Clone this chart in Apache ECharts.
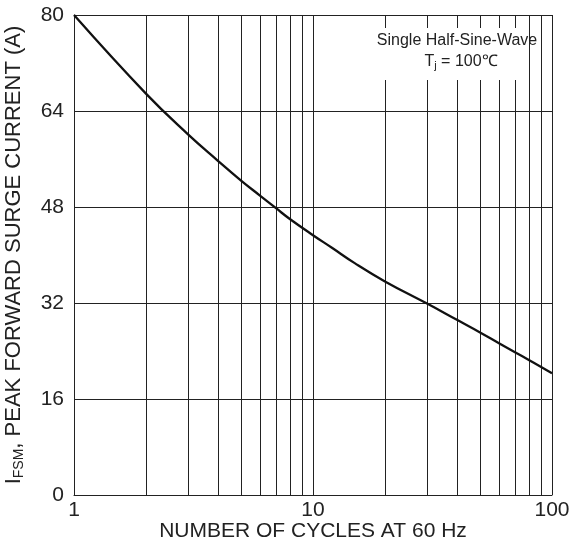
<!DOCTYPE html>
<html>
<head>
<meta charset="utf-8">
<script src="https://cdn.jsdelivr.net/npm/echarts@6/dist/echarts.min.js"></script>
<style>html,body{margin:0;padding:0;background:#fff;}#c{width:571px;height:544px;}</style>
</head>
<body>
<div id="c"></div>
<script>
// Data
var cycles = [1, 2, 3, 4, 5, 6, 7, 8, 10, 12, 15, 20, 30, 40, 50, 60, 70, 80, 100];
var current = [80, 66.9, 60.1, 55.7, 52.4, 49.9, 47.8, 46.0, 43.3, 41.2, 38.6, 35.6, 31.9, 29.2, 27.1, 25.3, 23.8, 22.5, 20.3];
var yTicks = [0, 16, 32, 48, 64, 80];
var xMinorGrid = [2, 3, 4, 5, 6, 7, 8, 9, 20, 30, 40, 50, 60, 70, 80, 90];
var noteLine1 = 'Single Half-Sine-Wave';
var noteLine2 = '{a|T}{s|j}{a| = 100℃}';

var FONT = '"Liberation Sans", Arial, sans-serif';
var INK = '#222';

var chart = echarts.init(document.getElementById('c'));
chart.setOption({
  animation: false,
  backgroundColor: '#fff',
  grid: {left: 74, right: 19, top: 15, bottom: 49, outerBoundsMode: 'none', containLabel: false},
  xAxis: {
    type: 'log', logBase: 10, min: 1, max: 100,
    name: 'NUMBER OF CYCLES AT 60 Hz',
    nameLocation: 'middle', nameGap: 26, nameMoveOverlap: false,
    nameTextStyle: {fontFamily: FONT, fontSize: 21, color: INK},
    axisLine: {show: true, lineStyle: {color: INK, width: 1}},
    axisTick: {show: false},
    axisLabel: {fontFamily: FONT, fontSize: 21, color: INK, margin: 5},
    splitLine: {show: true, lineStyle: {color: INK, width: 1}},
    minorSplitLine: {show: false}
  },
  yAxis: {
    type: 'value', min: 0, max: 80, interval: 16,
    name: '{a|I}{s|FSM}{a|, PEAK FORWARD SURGE CURRENT (A)}',
    nameLocation: 'middle', nameGap: 48, nameRotate: 90, nameMoveOverlap: false,
    nameTextStyle: {
      fontFamily: FONT, color: INK,
      rich: {
        a: {fontFamily: FONT, fontSize: 22, color: INK},
        s: {fontFamily: FONT, fontSize: 14, color: INK, padding: [11, 0, 0, 0]}
      }
    },
    axisLine: {show: true, lineStyle: {color: INK, width: 1}},
    axisTick: {show: false},
    axisLabel: {fontFamily: FONT, fontSize: 21, color: INK, margin: 10,
      formatter: function (v) { return yTicks.indexOf(v) >= 0 ? String(v) : ''; }},
    splitLine: {show: true, lineStyle: {color: INK, width: 1}}
  },
  series: [{
    type: 'line',
    data: cycles.map(function (c, i) { return [c, current[i]]; }),
    smooth: 0.45,
    symbol: 'none',
    lineStyle: {color: '#111', width: 2.3},
    z: 5,
    markLine: {
      silent: true,
      symbol: 'none',
      label: {show: false},
      lineStyle: {color: INK, width: 1, type: 'solid'},
      data: xMinorGrid.map(function (v) { return {xAxis: v}; })
    }
  }],
  graphic: [
    {type: 'rect', z: 100, shape: {x: 372, y: 28, width: 154, height: 52}, style: {fill: '#fff'}},
    {type: 'text', z: 101, x: 457, y: 41,
      style: {text: noteLine1, fontFamily: FONT, fontSize: 16, fill: INK, align: 'center', verticalAlign: 'middle'}},
    {type: 'text', z: 101, x: 461, y: 62,
      style: {text: noteLine2, align: 'center', verticalAlign: 'middle',
        rich: {
          a: {fontFamily: FONT, fontSize: 16, fill: INK},
          s: {fontFamily: FONT, fontSize: 11, fill: INK, padding: [8, 0, 0, 0]}
        }}}
  ]
});
</script>
</body>
</html>
